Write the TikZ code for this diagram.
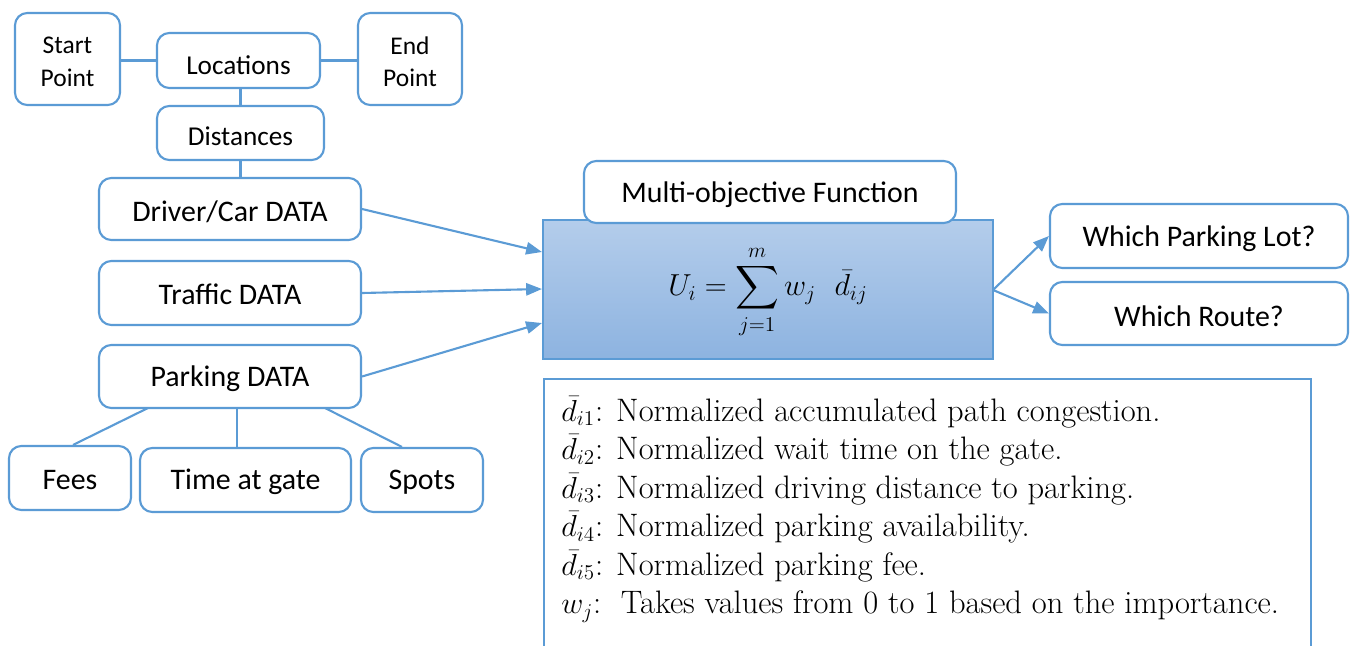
\documentclass[tikz,border=0pt]{standalone}
\usepackage{amsmath}
\usepackage{fontspec}
\setsansfont{Carlito}
\usetikzlibrary{arrows.meta}
\definecolor{edge}{RGB}{91,155,213}
\definecolor{topc}{RGB}{180,205,235}
\definecolor{botc}{RGB}{141,179,224}
\tikzset{
  rbox/.style={draw=edge, line width=1.2pt, rounded corners=7pt, fill=white, font=\sffamily\fontsize{17}{19}\selectfont, align=center, inner sep=0pt},
  small/.style={font=\sffamily\fontsize{14.5}{18.5}\selectfont},
  mid/.style={font=\sffamily\fontsize{15.5}{18}\selectfont},
  link/.style={draw=edge, line width=1.2pt},
  arr/.style={link, -{Triangle[length=9pt,width=7pt]}}
}
\newcommand{\lowerby}[2]{\raisebox{-#1}[\height][\depth]{#2}}
\begin{document}
\begin{tikzpicture}[x=0.02cm,y=-0.02cm]
\useasboundingbox (0,0) rectangle (1350,646);
% top cluster
\node[rbox, small, minimum width=105*0.02cm, minimum height=92*0.02cm] (start) at (67.5,59) {\lowerby{1.5pt}{Start}\\\lowerby{1.5pt}{Point}};
\node[rbox, mid, minimum width=163*0.02cm, minimum height=55*0.02cm] (loc) at (238.5,60.5) {\lowerby{2.5pt}{Locations}};
\node[rbox, small, minimum width=104*0.02cm, minimum height=92*0.02cm] (end) at (410,59) {\lowerby{1.5pt}{End}\\\lowerby{1.5pt}{Point}};
\node[rbox, mid, minimum width=167*0.02cm, minimum height=54*0.02cm] (dist) at (240.5,133) {\lowerby{2pt}{Distances}};
% data boxes
\node[rbox, minimum width=262*0.02cm, minimum height=62*0.02cm] (driver) at (230,209) {\lowerby{1.5pt}{Driver/Car DATA}};
\node[rbox, minimum width=262*0.02cm, minimum height=64*0.02cm] (traffic) at (230,293) {\lowerby{1pt}{Traffic DATA}};
\node[rbox, minimum width=262*0.02cm, minimum height=63*0.02cm] (parking) at (230,376.5) {\lowerby{1pt}{Parking DATA}};
% bottom
\node[rbox, minimum width=122*0.02cm, minimum height=64*0.02cm] (fees) at (70,478) {\lowerby{1pt}{Fees}};
\node[rbox, minimum width=211*0.02cm, minimum height=64*0.02cm] (time) at (245.5,480) {\lowerby{1pt}{Time at gate}};
\node[rbox, minimum width=122*0.02cm, minimum height=64*0.02cm] (spots) at (422,480) {\lowerby{1.5pt}{Spots}};
% main
\node[draw=edge, line width=1.2pt, top color=topc, bottom color=botc, minimum width=450*0.02cm, minimum height=139*0.02cm, inner sep=0pt] (main) at (768,289.5) {};
\node[rbox, minimum width=372*0.02cm, minimum height=62*0.02cm] (mof) at (770,192) {\lowerby{1.5pt}{Multi-objective Function}};
\node[font=\fontsize{17.5}{20}\selectfont] (formula) at (768,292) {$\displaystyle U_i = \sum_{j=1}^{m} w_j\ \ \bar{d}_{ij}$};
% outputs
\node[rbox, minimum width=298*0.02cm, minimum height=64*0.02cm] (lot) at (1199,236) {\lowerby{1.5pt}{Which Parking Lot?}};
\node[rbox, minimum width=298*0.02cm, minimum height=63*0.02cm] (route) at (1199,313.5) {\lowerby{1.5pt}{Which Route?}};
% legend
\node[draw=edge, line width=1.2pt, minimum width=767*0.02cm, minimum height=300*0.02cm, anchor=north west, inner sep=0pt] (legbox) at (543,378) {};
\node[anchor=north west, align=left, font=\fontsize{18.5}{21.9}\selectfont, inner sep=0pt] (legend) at (561,396) {%
$\bar{d}_{i1}$: Normalized accumulated path congestion.\\
$\bar{d}_{i2}$: Normalized wait time on the gate.\\
$\bar{d}_{i3}$: Normalized driving distance to parking.\\
$\bar{d}_{i4}$: Normalized parking availability.\\
$\bar{d}_{i5}$: Normalized parking fee.\\
$w_j$:\ \ Takes values from 0 to 1 based on the importance.};
% connectors
\draw[link] (start.east |- loc.west) -- (loc.west);
\draw[link] (loc.east) -- (end.west |- loc.east);
\draw[link] (dist.north |- loc.south) -- (dist.north);
\draw[link] (dist.south) -- (dist.south |- driver.north);
\draw[arr] (driver.east) -- (main.west |- 0,252);
\draw[arr] (traffic.east) -- (main.west |- 0,289);
\draw[arr] (parking.east) -- (main.west |- 0,323);
\draw[link] (148,408) -- (fees.north -| 73,0);
\draw[link] (237,408) -- (time.north -| 237,0);
\draw[link] (325,408) -- (spots.north -| 402,0);
\coordinate (mo) at (993,290);
\draw[arr] (mo) -- (lot.west);
\draw[arr] (mo) -- (route.west);
\end{tikzpicture}
\end{document}
